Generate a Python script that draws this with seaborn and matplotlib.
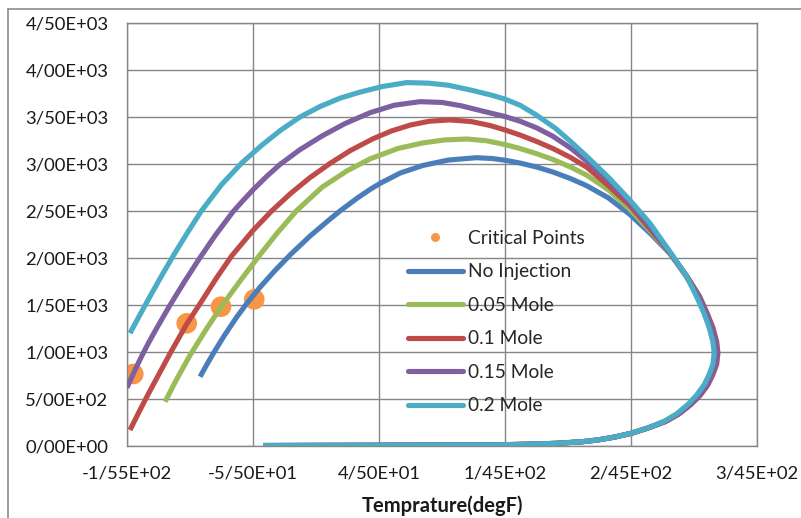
import matplotlib
matplotlib.use("Agg")
import matplotlib.pyplot as plt
import matplotlib.lines as mlines
from matplotlib.ticker import FuncFormatter, MultipleLocator
import seaborn as sns
import pandas as pd

# Phase envelopes (temperature degF, pressure psia) for each injection level
temp_no_inj = [-97, -92, -86.5, -78, -68, -60, -50, -38, -25, -10, 4, 14, 28, 38, 46, 62, 80, 100,
               122.5, 135, 145, 157, 170, 183, 197, 210, 227, 244, 260, 276, 289, 298, 304, 308.5,
               311.5, 312.5, 311.5, 308.5, 304.5, 298.5, 291.5, 282, 271.5, 258, 245, 232, 219,
               206, 185, 160, 140, 100, 45, -47]
pres_no_inj = [737, 858, 985, 1170, 1370, 1515, 1680, 1860, 2040, 2230, 2390, 2500, 2640, 2730,
               2795, 2905, 2985, 3042, 3067, 3058, 3040, 3010, 2968, 2915, 2845, 2768, 2640, 2465,
               2265, 2045, 1805, 1590, 1410, 1260, 1110, 990, 870, 760, 650, 540, 440, 340, 260,
               190, 135, 95, 65, 45, 28, 18, 13, 10, 8, 5]

temp_005 = [-124.8, -116, -105, -92, -80.4, -65, -51, -36, -20.3, 0, 20, 38, 60, 80, 97, 114.6,
            130, 145, 157, 170, 183, 197, 210, 227, 244, 260, 276, 289, 298.5, 304.5, 309, 312,
            313, 312, 309, 305, 299, 292, 282.5, 272, 258, 245, 232, 219, 206, 185, 160, 140, 100,
            45, -47]
pres_005 = [471, 700, 965, 1245, 1478, 1760, 2008, 2262, 2505, 2755, 2930, 3055, 3165, 3225, 3256,
            3266, 3248, 3207, 3164, 3110, 3048, 2968, 2880, 2725, 2520, 2290, 2050, 1805, 1590,
            1410, 1260, 1110, 990, 870, 760, 650, 540, 440, 340, 260, 190, 135, 95, 65, 45, 28,
            18, 13, 10, 8, 5]

temp_01 = [-152.6, -146, -138, -130, -121, -107.6, -96, -84, -72, -55, -40, -25, -10, 6, 22, 40,
           55, 70, 85, 101, 118, 133, 145, 157, 170, 183, 197, 210, 227, 244, 260, 276, 289.5,
           299.5, 305.5, 310, 313, 314, 313, 310, 306, 300, 292.5, 283, 272.5, 258.5, 245.5, 232,
           219, 206, 185, 160, 140, 100, 45, -47]
pres_01 = [170, 348, 556, 756, 980, 1298, 1535, 1787, 2021, 2293, 2503, 2688, 2853, 3005, 3141,
           3267, 3352, 3415, 3455, 3469, 3452, 3410, 3362, 3308, 3240, 3165, 3070, 2965, 2770,
           2560, 2310, 2055, 1805, 1590, 1410, 1260, 1110, 990, 870, 760, 650, 540, 440, 340,
           260, 190, 135, 95, 65, 45, 28, 18, 13, 10, 8, 5]

temp_015 = [-155, -151, -147, -143, -138, -132, -126, -121, -110, -98, -85, -71, -63, -55, -44,
            -33.6, -18, 0, 18, 38, 57, 77.5, 95, 110, 128, 145, 157, 170, 183, 197, 210, 227, 244,
            260, 276, 289, 299, 305, 309.5, 312.5, 313.5, 312.5, 309.5, 305.5, 299.5, 292, 282.5,
            272, 258, 245, 232, 219, 206, 185, 160, 140, 100, 45, -47]
pres_015 = [620, 740, 855, 965, 1095, 1240, 1380, 1495, 1735, 1985, 2240, 2490, 2610, 2725, 2870,
            2995, 3150, 3300, 3430, 3546, 3625, 3663, 3655, 3620, 3560, 3505, 3455, 3385, 3295,
            3170, 3030, 2825, 2590, 2330, 2055, 1805, 1590, 1410, 1260, 1110, 990, 870, 760, 650,
            540, 440, 340, 260, 190, 135, 95, 65, 45, 28, 18, 13, 10, 8, 5]

temp_02 = [-152.6, -145, -137, -128, -118, -107, -96, -80, -64, -48, -33, -17.7, -2, 14, 30, 48, 67,
           84, 100, 120, 135, 145, 157, 170, 185, 197, 210, 227, 244, 260, 276, 289, 297, 303,
           307, 310, 311, 310, 307, 303, 297, 290, 281, 271, 258, 245, 232, 219, 206, 185, 160,
           140, 100, 45, -47]
pres_02 = [1200, 1390, 1585, 1800, 2030, 2270, 2500, 2780, 3010, 3200, 3360, 3500, 3610, 3700, 3765,
           3825, 3866, 3860, 3838, 3780, 3730, 3690, 3625, 3520, 3380, 3240, 3080, 2860, 2617,
           2370, 2065, 1810, 1590, 1410, 1260, 1110, 990, 870, 760, 650, 540, 440, 340, 260, 190,
           135, 95, 65, 45, 28, 18, 13, 10, 8, 5]

# Critical points of the envelopes
crit_temp = [-150, -107.6, -80.4, -54]
crit_pres = [766, 1305, 1482, 1560]

series_names = ["No Injection", "0.05 Mole", "0.1 Mole", "0.15 Mole", "0.2 Mole"]
series_temp = [temp_no_inj, temp_005, temp_01, temp_015, temp_02]
series_pres = [pres_no_inj, pres_005, pres_01, pres_015, pres_02]
series_colors = ["#4A7EBB", "#9BBB59", "#BE4B48", "#7D60A0", "#4BACC6"]
crit_color = "#F79646"

x_ticks = [-155, -55, 45, 145, 245, 345]

sns.set_theme(style="white")
plt.rcParams["font.family"] = ["Lato", "DejaVu Sans"]

fig = plt.figure(figsize=(8.01, 5.18), dpi=100)
ax = fig.add_axes([127 / 801, 1 - 446 / 518, 630 / 801, 423 / 518])

crit_df = pd.DataFrame({"T": crit_temp, "P": crit_pres})
sns.scatterplot(data=crit_df, x="T", y="P", ax=ax, color=crit_color, s=220,
                edgecolor="none", zorder=2, legend=False)

for name, t, p, c in zip(series_names, series_temp, series_pres, series_colors):
    df = pd.DataFrame({"T": t, "P": p})
    sns.lineplot(data=df, x="T", y="P", sort=False, estimator=None, ax=ax, color=c,
                 linewidth=3.7, zorder=3, solid_capstyle="butt", solid_joinstyle="round")

ax.set_xlim(-155, 345)
ax.set_ylim(0, 4500)
ax.set_xticks(x_ticks)
ax.yaxis.set_major_locator(MultipleLocator(500))
fmt = FuncFormatter(lambda v, pos: f"{v:.2E}".replace(".", "/"))
ax.xaxis.set_major_formatter(fmt)
ax.yaxis.set_major_formatter(fmt)

ax.grid(True, color="#868686", linewidth=1.0)
ax.set_axisbelow(True)
for s in ax.spines.values():
    s.set_color("#868686")
    s.set_linewidth(1.0)
ax.tick_params(axis="both", which="major", direction="out", length=4.3, width=1,
               color="#868686", labelsize=13.3, labelcolor="#1a1a1a")
ax.tick_params(axis="y", pad=9)
ax.tick_params(axis="x", pad=10)

ax.set_xlabel("Temprature(degF)", fontsize=14.5, fontweight="bold", color="#1a1a1a", labelpad=10)
ax.set_ylabel("")

handles = [mlines.Line2D([], [], marker="o", linestyle="none", color=crit_color,
                         markersize=6.5, markeredgewidth=0)]
for c in series_colors:
    handles.append(mlines.Line2D([], [], color=c, linewidth=3.7))
labels = ["Critical Points"] + series_names
ax.legend(handles, labels, loc="upper left", bbox_to_anchor=(281 / 630, 1 - 207 / 423),
          frameon=False, fontsize=13.8, handlelength=2.85, handletextpad=0.3,
          labelspacing=0.86, borderaxespad=0, borderpad=0)

# outer chart frame
fig.add_artist(mlines.Line2D([8 / 801, 8 / 801], [0, 1 - 9 / 518], color="#8c8c8c", lw=1.2))
fig.add_artist(mlines.Line2D([8 / 801, 1], [1 - 9 / 518, 1 - 9 / 518], color="#8c8c8c", lw=1.2))

fig.savefig("out.png", dpi=100, facecolor="white")
